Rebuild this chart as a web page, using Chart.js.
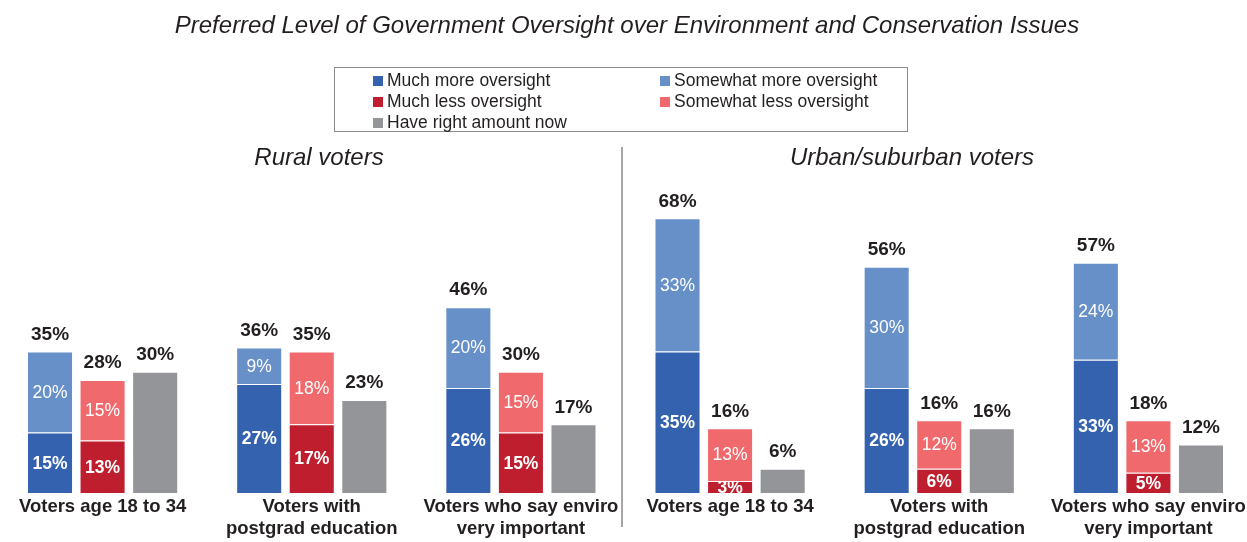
<!DOCTYPE html>
<html>
<head>
<meta charset="utf-8">
<script src="https://cdn.jsdelivr.net/npm/chart.js@4"></script>
<style>
  html, body { margin: 0; padding: 0; background: #fff; overflow: hidden; }
  body { width: 1247px; height: 542px; position: relative; font-family: "Liberation Sans", Arial, sans-serif; color: #231f20; }
  #wrap { position: absolute; left: -2px; top: 0; width: 1255px; height: 542px; }
  .title { position: absolute; top: 11px; left: 0; width: 1254px; text-align: center; font-size: 24px; line-height: 28px; font-style: italic; }
  .sub { position: absolute; top: 143px; font-size: 24px; line-height: 28px; font-style: italic; text-align: center; width: 400px; }
  .divider { position: absolute; left: 621px; top: 147px; width: 2px; height: 380px; background: #a6a6a6; }
  .legend { position: absolute; left: 334px; top: 67px; width: 572px; height: 63px; border: 1px solid #8c8c8c; font-size: 17.5px; }
  .item { position: absolute; white-space: nowrap; line-height: 18px; }
  .item span { display: inline-block; width: 10px; height: 10px; margin-right: 4px; vertical-align: 0px; }
</style>
</head>
<body>
<div id="wrap"><canvas id="chart"></canvas></div>
<div class="title">Preferred Level of Government Oversight over Environment and Conservation Issues</div>
<div class="legend" id="legend"></div>
<div class="sub" style="left:119px">Rural voters</div>
<div class="sub" style="left:712px">Urban/suburban voters</div>
<div class="divider"></div>
<script>
// Data
const categories = [
    'Voters age 18 to 34',
    ['Voters with', 'postgrad education'],
    ['Voters who say enviro', 'very important'],
    'Voters age 18 to 34',
    ['Voters with', 'postgrad education'],
    ['Voters who say enviro', 'very important']
];
const muchMore = [15, 27, 26, 35, 26, 33];
const somewhatMore = [20, 9, 20, 33, 30, 24];
const muchLess = [13, 17, 15, 3, 6, 5];
const somewhatLess = [15, 18, 15, 13, 12, 13];
const rightAmount = [30, 23, 17, 6, 16, 12];
const moreTotals = [35, 36, 46, 68, 56, 57];
const lessTotals = [28, 35, 30, 16, 16, 18];

const colors = {
    muchMore: '#3462ae',
    somewhatMore: '#6790c9',
    muchLess: '#be1e2d',
    somewhatLess: '#f06a6d',
    right: '#939598'
};

// Legend (HTML)
const legendItems = [
    ['Much more oversight', colors.muchMore, 38, 3],
    ['Somewhat more oversight', colors.somewhatMore, 325, 3],
    ['Much less oversight', colors.muchLess, 38, 24],
    ['Somewhat less oversight', colors.somewhatLess, 325, 24],
    ['Have right amount now', colors.right, 38, 45]
];
const legend = document.getElementById('legend');
legendItems.forEach(([text, color, x, y]) => {
    const div = document.createElement('div');
    div.className = 'item';
    div.style.left = x + 'px';
    div.style.top = y + 'px';
    div.innerHTML = `<span style="background:${color}"></span>${text}`;
    legend.appendChild(div);
});

const FONT = '"Liberation Sans", Arial, sans-serif';

// labels inside and on top of the bars
const barLabels = {
    id: 'barLabels',
    afterDatasetsDraw(chart) {
        const ctx = chart.ctx;
        ctx.save();
        ctx.textAlign = 'center';
        ctx.textBaseline = 'middle';
        chart.data.datasets.forEach((ds, i) => {
            const meta = chart.getDatasetMeta(i);
            meta.data.forEach((bar, j) => {
                const top = Math.min(bar.y, bar.base);
                const bottom = Math.max(bar.y, bar.base);
                if (i < 4) {
                    ctx.save();
                    ctx.beginPath();
                    ctx.rect(bar.x - bar.width / 2, top, bar.width, bottom - top);
                    ctx.clip();
                    ctx.fillStyle = '#ffffff';
                    ctx.font = (i % 2 === 0 ? 'bold ' : '') + '17.5px ' + FONT;
                    ctx.fillText(ds.data[j] + '%', bar.x, (top + bottom) / 2 + 1);
                    ctx.restore();
                }
                let total = null;
                if (i === 1) total = moreTotals[j];
                if (i === 3) total = lessTotals[j];
                if (i === 4) total = rightAmount[j];
                if (total !== null) {
                    ctx.fillStyle = '#231f20';
                    ctx.font = 'bold 19px ' + FONT;
                    ctx.fillText(total + '%', bar.x, top - 17);
                }
            });
        });
        ctx.restore();
    }
};

const common = { borderColor: 'rgba(255,255,255,0.5)', borderWidth: 1, borderSkipped: 'bottom' };

new Chart(document.getElementById('chart'), {
    type: 'bar',
    data: {
        labels: categories,
        datasets: [
            { label: 'Much more oversight', data: muchMore, backgroundColor: colors.muchMore, stack: 'more', ...common },
            { label: 'Somewhat more oversight', data: somewhatMore, backgroundColor: colors.somewhatMore, stack: 'more', ...common },
            { label: 'Much less oversight', data: muchLess, backgroundColor: colors.muchLess, stack: 'less', ...common },
            { label: 'Somewhat less oversight', data: somewhatLess, backgroundColor: colors.somewhatLess, stack: 'less', ...common },
            { label: 'Have right amount now', data: rightAmount, backgroundColor: colors.right, stack: 'right', ...common }
        ]
    },
    options: {
        responsive: true,
        maintainAspectRatio: false,
        animation: false,
        categoryPercentage: 0.754,
        barPercentage: 0.876,
        layout: { padding: { top: 190, left: 0, right: 0, bottom: 0 } },
        plugins: {
            legend: { display: false },
            tooltip: { enabled: false }
        },
        scales: {
            x: {
                stacked: true,
                grid: { display: false, drawTicks: false, tickLength: 0 },
                border: { display: false },
                ticks: {
                    color: '#231f20',
                    font: { family: FONT, size: 18.5, weight: 'bold', lineHeight: 1.19 },
                    padding: 3,
                    maxRotation: 0,
                    autoSkip: false
                },
                afterFit: (s) => { s.height = 49; }
            },
            y: {
                stacked: true,
                display: false,
                min: 0,
                max: 75
            }
        }
    },
    plugins: [barLabels]
});
</script>
</body>
</html>
